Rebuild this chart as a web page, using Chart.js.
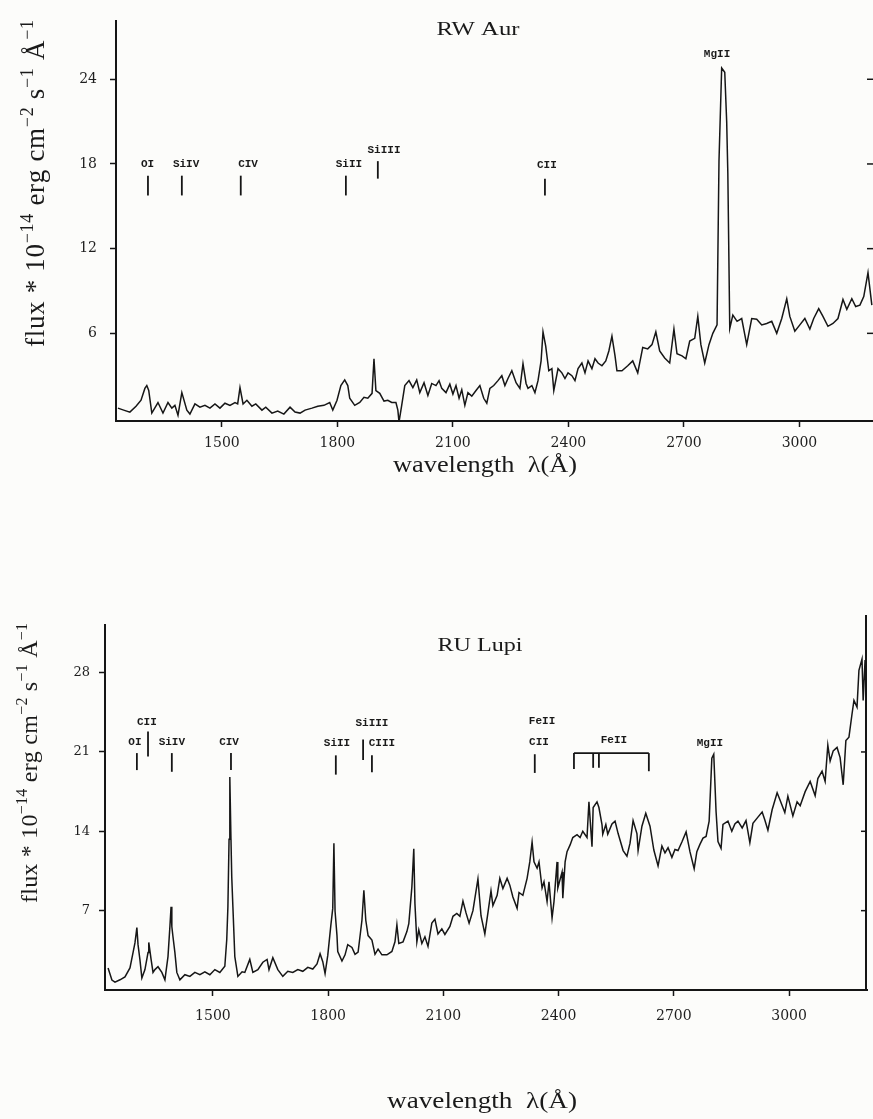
<!DOCTYPE html>
<html>
<head>
<meta charset="utf-8">
<title>RW Aur / RU Lupi spectra</title>
<script src="https://cdn.jsdelivr.net/npm/chart.js@4.4.0/dist/chart.umd.min.js"></script>
<style>
  html, body { margin: 0; padding: 0; background: #fcfcfa; }
  body { width: 873px; height: 1119px; position: relative; overflow: hidden; }
  .panel { position: absolute; left: 0; }
  #topPanel { top: 0; }
  #bottomPanel { top: 540px; }
</style>
</head>
<body>
<div class="panel" id="topPanel"><canvas id="rwAurChart" width="873" height="480"></canvas></div>
<div class="panel" id="bottomPanel"><canvas id="ruLupiChart" width="873" height="579"></canvas></div>
<script>
// RW Aur spectrum (wavelength in A, flux in 1e-14 erg cm-2 s-1 A-1)
const rwAurWavelength = [
  1230, 1245, 1261, 1277, 1290, 1300, 1305, 1310, 1318, 1334,
  1347, 1360, 1370, 1378, 1386, 1396, 1409, 1417, 1430, 1443,
  1456, 1469, 1482, 1495, 1508, 1521, 1534, 1541, 1547, 1555,
  1565, 1578, 1588, 1604, 1614, 1630, 1645, 1661, 1677, 1690,
  1703, 1716, 1734, 1749, 1765, 1780, 1788, 1799, 1809, 1819,
  1827, 1832, 1845, 1858, 1869, 1879, 1890, 1895, 1900, 1910,
  1921, 1931, 1941, 1952, 1957, 1960, 1967, 1975, 1986, 1996,
  2006, 2014, 2025, 2035, 2045, 2056, 2064, 2071, 2082, 2092,
  2100, 2108, 2116, 2123, 2131, 2139, 2149, 2160, 2170, 2180,
  2188, 2196, 2206, 2217, 2227, 2235, 2243, 2253, 2264, 2274,
  2282, 2290, 2295, 2305, 2313, 2321, 2329, 2334, 2341, 2349,
  2357, 2362, 2373, 2383, 2391, 2399, 2409, 2417, 2425, 2435,
  2443, 2451, 2461, 2469, 2477, 2487, 2497, 2505, 2513, 2521,
  2526, 2539, 2554, 2567, 2580, 2593, 2606, 2617, 2627, 2637,
  2650, 2663, 2674, 2682, 2695, 2705, 2715, 2728, 2736, 2744,
  2754, 2765, 2775, 2786, 2791, 2798, 2806, 2811, 2814, 2819,
  2827, 2838, 2850, 2863, 2876, 2889, 2902, 2915, 2928, 2941,
  2954, 2967, 2975, 2988, 3001, 3014, 3027, 3037, 3050, 3061,
  3074, 3087, 3100, 3113, 3123, 3136, 3146, 3157, 3167, 3178,
  3188
];
const rwAurFlux = [
  0.7, 0.56, 0.42, 0.84, 1.26, 2.1, 2.3, 1.95, 0.35, 1.1,
  0.35, 1.1, 0.7, 0.9, 0.2, 1.8, 0.56, 0.28, 1.0, 0.77,
  0.9, 0.7, 1.0, 0.7, 1.05, 0.9, 1.1, 1.0, 2.15, 1.0,
  1.26, 0.84, 1.0, 0.56, 0.77, 0.35, 0.5, 0.28, 0.77, 0.42,
  0.35, 0.56, 0.7, 0.84, 0.9, 1.1, 0.56, 1.26, 2.3, 2.7,
  2.3, 1.4, 0.9, 1.1, 1.47, 1.4, 1.75, 4.2, 1.95, 1.75,
  1.2, 1.26, 1.1, 1.1, 0.56, -0.28, 0.9, 2.3, 2.65, 2.15,
  2.7, 1.8, 2.5, 1.6, 2.45, 2.3, 2.65, 2.1, 1.8, 2.4,
  1.7, 2.3, 1.4, 2.0, 0.9, 1.8, 1.55, 1.95, 2.3, 1.4,
  1.05, 2.1, 2.3, 2.65, 3.0, 2.3, 2.8, 3.35, 2.5, 2.1,
  3.85, 2.45, 2.1, 2.3, 1.8, 2.65, 4.05, 6.1, 5.1, 3.35,
  3.5, 1.95, 3.5, 3.2, 2.8, 3.2, 3.0, 2.65, 3.5, 3.9,
  3.2, 4.05, 3.5, 4.2, 3.9, 3.7, 4.05, 4.75, 5.8, 4.4,
  3.35, 3.35, 3.7, 4.05, 3.2, 5.0, 4.9, 5.2, 6.1, 4.75,
  4.25, 3.9, 6.3, 4.55, 4.4, 4.2, 5.45, 5.65, 7.2, 5.2,
  3.9, 5.2, 6.0, 6.6, 18.2, 24.8, 24.5, 21.0, 17.3, 6.35,
  7.3, 6.85, 7.05, 5.2, 7.05, 7.0, 6.6, 6.7, 6.85, 6.0,
  7.05, 8.45, 7.2, 6.15, 6.6, 7.05, 6.3, 7.05, 7.75, 7.2,
  6.5, 6.7, 7.05, 8.4, 7.7, 8.45, 7.9, 8.0, 8.6, 10.3,
  8.0
];

// RU Lupi spectrum
const ruLupiWavelength = [
  1227, 1237, 1245, 1258, 1271, 1284, 1292, 1297, 1302, 1305,
  1310, 1315, 1323, 1331, 1333, 1339, 1344, 1349, 1357, 1367,
  1375, 1383, 1388, 1391, 1393, 1396, 1401, 1406, 1414, 1427,
  1440, 1453, 1466, 1479, 1492, 1505, 1518, 1531, 1536, 1539,
  1542, 1544, 1547, 1549, 1552, 1557, 1565, 1576, 1583, 1596,
  1604, 1617, 1630, 1641, 1646, 1656, 1669, 1682, 1695, 1708,
  1721, 1734, 1747, 1760, 1771, 1779, 1786, 1792, 1799, 1807,
  1812, 1815, 1818, 1823, 1825, 1836, 1844, 1851, 1862, 1870,
  1878, 1888, 1893, 1898, 1904, 1914, 1922, 1930, 1940, 1953,
  1966, 1974, 1979, 1984, 1995, 2005, 2010, 2018, 2023, 2026,
  2031, 2036, 2044, 2052, 2060, 2070, 2078, 2086, 2096, 2104,
  2117, 2125, 2135, 2143, 2151, 2159, 2167, 2177, 2190, 2198,
  2208, 2216, 2224, 2229, 2240, 2247, 2255, 2266, 2273, 2281,
  2292, 2297, 2307, 2318, 2325, 2331, 2336, 2344, 2349, 2357,
  2362, 2370, 2375, 2383, 2388, 2396, 2398, 2409, 2411, 2417,
  2422, 2430, 2437, 2448, 2456, 2463, 2474, 2479, 2487, 2490,
  2500, 2505, 2513, 2515, 2523, 2528, 2539, 2547, 2555, 2568,
  2578, 2586, 2594, 2604, 2607, 2617, 2627, 2638, 2648, 2659,
  2669, 2677, 2685, 2695, 2703, 2711, 2721, 2732, 2742, 2753,
  2760, 2768, 2776, 2784, 2792, 2799, 2804, 2810, 2815, 2823,
  2828, 2841, 2851, 2859, 2867, 2878, 2888, 2898, 2906, 2919,
  2930, 2937, 2945, 2956, 2969, 2976, 2989, 2997, 3010, 3021,
  3029, 3042, 3055, 3068, 3075, 3086, 3094, 3101, 3107, 3115,
  3125, 3133, 3141, 3148, 3156, 3164, 3169, 3177, 3182, 3190,
  3193, 3198, 3203
];
const ruLupiFlux = [
  1.94, 0.88, 0.7, 0.9, 1.15, 1.95, 3.3, 4.15, 5.5, 4.0,
  2.65, 1.06, 1.8, 3.3, 4.2, 2.7, 1.55, 1.8, 2.05, 1.55,
  0.9, 2.95, 5.6, 7.35, 5.6, 4.7, 3.3, 1.55, 0.9, 1.35,
  1.2, 1.55, 1.35, 1.6, 1.35, 1.8, 1.55, 2.1, 4.45, 7.35,
  13.3, 18.8, 13.3, 10.0, 7.35, 2.95, 1.2, 1.6, 1.55, 2.7,
  1.55, 1.8, 2.45, 2.7, 1.8, 2.85, 1.8, 1.2, 1.65, 1.55,
  1.8, 1.65, 2.0, 1.85, 2.3, 3.2, 2.5, 1.45, 3.05, 5.7,
  7.2, 12.95, 6.95, 4.8, 3.4, 2.55, 3.1, 4.0, 3.75, 3.15,
  3.35, 6.15, 8.8, 6.15, 4.8, 4.4, 3.15, 3.6, 3.1, 3.1,
  3.4, 4.25, 5.75, 4.1, 4.25, 5.15, 5.85, 9.1, 12.45, 7.6,
  4.25, 5.3, 4.1, 4.7, 3.85, 5.9, 6.25, 4.95, 5.4, 4.9,
  5.6, 6.5, 6.75, 6.5, 7.85, 6.8, 5.9, 7.0, 9.8, 6.55,
  4.95, 6.8, 8.75, 7.45, 8.35, 9.85, 8.95, 9.85, 9.25, 8.2,
  7.2, 8.6, 8.35, 9.85, 11.3, 13.05, 11.3, 10.75, 11.3, 9.0,
  9.55, 7.8, 9.55, 6.35, 7.8, 11.3, 9.0, 10.4, 8.1, 11.3,
  12.2, 12.8, 13.45, 13.7, 13.45, 14.0, 13.45, 16.6, 12.65, 16.1,
  16.6, 16.1, 14.6, 13.75, 14.6, 13.75, 14.65, 14.9, 13.8, 12.3,
  11.8, 12.95, 14.95, 13.8, 12.3, 14.45, 15.6, 14.45, 12.35, 10.95,
  12.7, 12.1, 12.55, 11.7, 12.4, 12.3, 13.05, 13.95, 12.2, 10.7,
  12.2, 12.85, 13.4, 13.55, 14.9, 20.45, 20.8, 15.75, 13.1, 12.5,
  14.6, 14.9, 14.0, 14.65, 14.9, 14.3, 14.95, 13.0, 14.7, 15.25,
  15.7, 15.0, 14.1, 15.9, 17.4, 16.8, 15.65, 17.1, 15.35, 16.6,
  16.25, 17.5, 18.4, 17.15, 18.65, 19.3, 18.4, 21.6, 20.2, 21.1,
  21.4, 20.5, 18.1, 22.0, 22.3, 24.35, 25.55, 24.95, 28.2, 29.2,
  25.55, 29.1, 23.8
];

// axis ticks
const wavelengthTicks = [1500, 1800, 2100, 2400, 2700, 3000];
const rwAurFluxTicks = [6, 12, 18, 24];
const ruLupiFluxTicks = [7, 14, 21, 28];

// line identifications, RW Aur
const rwAurMarkWl = [1308, 1396, 1549, 1822, 1905, 2339];
const rwAurMarkLo = [15.77, 15.77, 15.77, 15.77, 16.96, 15.77];
const rwAurMarkHi = [17.17, 17.17, 17.17, 17.17, 18.2, 16.96];
const rwAurLabels = ['OI', 'SiIV', 'CIV', 'SiII', 'SiIII', 'CII', 'MgII'];
const rwAurLabelWl = [1307, 1407, 1568, 1830, 1921, 2344, 2786];
const rwAurLabelFlux = [18.0, 18.0, 18.0, 18.0, 19.0, 17.9, 25.8];

// line identifications, RU Lupi
const ruLupiMarkWl = [1302, 1331, 1393, 1547, 1820, 1891, 1914, 2338];
const ruLupiMarkLo = [19.4, 20.6, 19.25, 19.4, 19.0, 20.3, 19.2, 19.15];
const ruLupiMarkHi = [20.9, 22.8, 20.9, 20.9, 20.7, 22.1, 20.7, 20.8];
const ruLupiLabels = ['OI', 'CII', 'SiIV', 'CIV', 'SiII', 'SiIII', 'CIII', 'FeII', 'CII', 'FeII', 'MgII'];
const ruLupiLabelWl = [1297, 1328, 1393, 1542, 1823, 1914, 1940, 2357, 2349, 2544, 2794];
const ruLupiLabelFlux = [21.9, 23.65, 21.9, 21.9, 21.8, 23.55, 21.8, 23.7, 21.9, 22.0, 21.8];
const feBracketWl = [2440, 2490, 2505, 2635];
const feBracketLo = [19.5, 19.6, 19.6, 19.3];
const feBracketTop = 20.9;

const fluxTitle = [['flux * 10', false], ['\u221214', true], [' erg cm', false], ['\u22122', true],
  [' s', false], ['\u22121', true], [' \u00C5', false], ['\u22121', true]];

Chart.defaults.font.family = '"DejaVu Serif", serif';
Chart.defaults.color = '#1e1e1e';

function strokeLine(ctx, x1, y1, x2, y2) {
  ctx.beginPath();
  ctx.moveTo(x1, y1);
  ctx.lineTo(x2, y2);
  ctx.stroke();
}

// stretched serif text, like the scanned figure
function drawFitted(ctx, text, cx, baseline, size, width) {
  ctx.save();
  ctx.font = size + 'px "Liberation Serif"';
  const w = ctx.measureText(text).width;
  ctx.translate(cx, baseline);
  ctx.scale(width / w, 1);
  ctx.textAlign = 'center';
  ctx.textBaseline = 'alphabetic';
  ctx.fillText(text, 0, 0);
  ctx.restore();
}

// rotated axis title with superscripts, spread between startY and endY
function drawFluxTitle(ctx, baseX, startY, endY, size) {
  const supSize = Math.round(size * 0.68);
  const pieces = [];
  fluxTitle.forEach(([txt, sup]) => { for (const ch of txt) pieces.push({ ch, sup }); });
  ctx.save();
  const widths = pieces.map(p => {
    ctx.font = (p.sup ? supSize : size) + 'px "Liberation Serif"';
    return ctx.measureText(p.ch).width;
  });
  const natural = widths.reduce((a, b) => a + b, 0);
  const gap = (startY - endY - natural) / (pieces.length - 1);
  ctx.translate(baseX, startY);
  ctx.rotate(-Math.PI / 2);
  ctx.textAlign = 'left';
  ctx.textBaseline = 'alphabetic';
  let pos = 0;
  pieces.forEach((p, i) => {
    ctx.font = (p.sup ? supSize : size) + 'px "Liberation Serif"';
    ctx.fillText(p.ch, pos, p.sup ? -size * 0.42 : 0);
    pos += widths[i] + gap;
  });
  ctx.restore();
}

const spectrumDecor = {
  id: 'spectrumDecor',
  afterDraw(chart, args, o) {
    const { ctx, chartArea: area } = chart;
    const xs = chart.scales.x;
    const ys = chart.scales.y;
    ctx.save();
    ctx.strokeStyle = '#151515';
    ctx.fillStyle = '#1a1a1a';

    // right axis (ticks point inward)
    ctx.lineWidth = 1.5;
    o.rightTicks.forEach(v => {
      const py = ys.getPixelForValue(v);
      strokeLine(ctx, area.right - 6, py, area.right, py);
    });
    if (o.rightBorder) {
      ctx.lineWidth = 2;
      strokeLine(ctx, area.right - 1, area.top - 10, area.right - 1, area.bottom);
    }

    // line markers
    ctx.lineWidth = 1.8;
    o.markWl.forEach((w, i) => {
      const px = xs.getPixelForValue(w);
      strokeLine(ctx, px, ys.getPixelForValue(o.markLo[i]), px, ys.getPixelForValue(o.markHi[i]));
    });
    if (o.bracketWl) {
      const top = ys.getPixelForValue(o.bracketTop);
      const bx = o.bracketWl.map(w => xs.getPixelForValue(w));
      strokeLine(ctx, bx[0], top, bx[bx.length - 1], top);
      bx.forEach((px, i) => strokeLine(ctx, px, top, px, ys.getPixelForValue(o.bracketLo[i])));
    }
    ctx.font = 'bold 11px "Liberation Mono"';
    ctx.textAlign = 'center';
    ctx.textBaseline = 'middle';
    o.labels.forEach((t, i) => {
      ctx.fillText(t, xs.getPixelForValue(o.labelWl[i]), ys.getPixelForValue(o.labelFlux[i]));
    });

    // titles
    drawFitted(ctx, o.title, o.titlePos[0], o.titlePos[1], 19, o.titlePos[2]);
    drawFitted(ctx, 'wavelength  \u03BB(\u00C5)', o.xTitlePos[0], o.xTitlePos[1], 24, o.xTitlePos[2]);
    drawFluxTitle(ctx, o.yTitlePos[0], o.yTitlePos[1], o.yTitlePos[2], o.yTitlePos[3]);
    ctx.restore();
  }
};

function createSpectrumChart(canvasId, cfg) {
  const ctx = document.getElementById(canvasId);
  const points = cfg.wavelength.map((w, i) => ({ x: w, y: cfg.flux[i] }));
  const axisLine = { display: true, color: '#151515', width: 2 };
  const tickGrid = { drawOnChartArea: false, drawTicks: true, tickLength: 6, tickColor: '#151515', tickWidth: 1.5 };

  return new Chart(ctx, {
    type: 'line',
    data: {
      datasets: [{
        data: points,
        borderColor: '#161616',
        borderWidth: 1.5,
        pointRadius: 0,
        tension: 0,
        fill: false
      }]
    },
    options: {
      responsive: false,
      animation: false,
      layout: { padding: cfg.padding },
      plugins: {
        legend: { display: false },
        tooltip: { enabled: false },
        spectrumDecor: cfg.decor
      },
      scales: {
        x: {
          type: 'linear',
          min: cfg.xMin,
          max: cfg.xMax,
          afterBuildTicks: s => { s.ticks = wavelengthTicks.map(v => ({ value: v })); },
          afterFit: s => { s.height = cfg.xHeight; },
          grid: tickGrid,
          border: axisLine,
          ticks: {
            font: { size: 14 },
            padding: cfg.xPad,
            maxRotation: 0,
            autoSkip: false,
            callback: v => String(v)
          }
        },
        y: {
          type: 'linear',
          min: cfg.yMin,
          max: cfg.yMax,
          afterBuildTicks: s => { s.ticks = cfg.yTicks.map(v => ({ value: v })); },
          afterFit: s => { s.width = cfg.yWidth; },
          grid: tickGrid,
          border: axisLine,
          ticks: { font: { size: cfg.yFont }, padding: cfg.yPad, callback: v => String(v) }
        }
      }
    },
    plugins: [spectrumDecor]
  });
}

createSpectrumChart('rwAurChart', {
  wavelength: rwAurWavelength,
  flux: rwAurFlux,
  xMin: 1225, xMax: 3191,
  yMin: -0.21, yMax: 28.1,
  yTicks: rwAurFluxTicks,
  padding: { top: 15, right: 0, bottom: 0, left: 0 },
  yWidth: 116, xHeight: 59,
  xPad: 8, yPad: 13, yFont: 14,
  decor: {
    rightTicks: rwAurFluxTicks,
    rightBorder: false,
    markWl: rwAurMarkWl, markLo: rwAurMarkLo, markHi: rwAurMarkHi,
    labels: rwAurLabels, labelWl: rwAurLabelWl, labelFlux: rwAurLabelFlux,
    title: 'RW Aur', titlePos: [478, 35, 83],
    xTitlePos: [485, 472, 184],
    yTitlePos: [44, 347, 20, 27]
  }
});

createSpectrumChart('ruLupiChart', {
  wavelength: ruLupiWavelength,
  flux: ruLupiFlux,
  xMin: 1219, xMax: 3203,
  yMin: 0, yMax: 32.2,
  yTicks: ruLupiFluxTicks,
  padding: { top: 85, right: 6, bottom: 0, left: 0 },
  yWidth: 105, xHeight: 129,
  xPad: 12, yPad: 9, yFont: 13,
  decor: {
    rightTicks: [7, 14, 21],
    rightBorder: true,
    markWl: ruLupiMarkWl, markLo: ruLupiMarkLo, markHi: ruLupiMarkHi,
    labels: ruLupiLabels, labelWl: ruLupiLabelWl, labelFlux: ruLupiLabelFlux,
    bracketWl: feBracketWl, bracketLo: feBracketLo, bracketTop: feBracketTop,
    title: 'RU Lupi', titlePos: [480, 111, 85],
    xTitlePos: [482, 568, 190],
    yTitlePos: [37, 363, 83, 24]
  }
});
</script>
</body>
</html>
